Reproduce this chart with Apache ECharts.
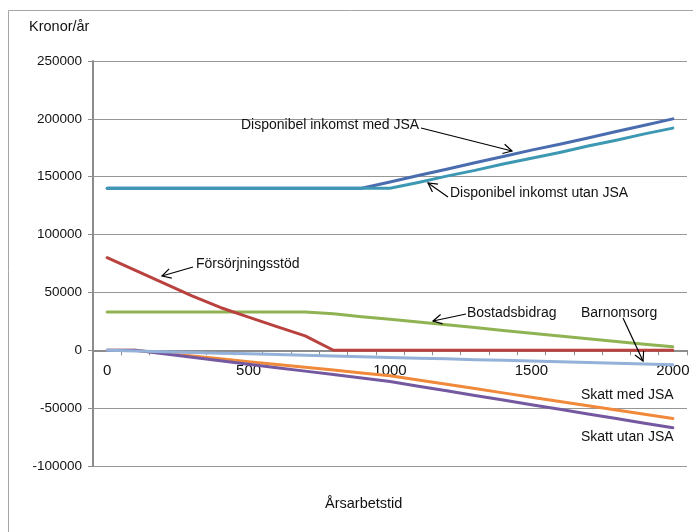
<!DOCTYPE html>
<html>
<head>
<meta charset="utf-8">
<script src="https://cdn.jsdelivr.net/npm/echarts@6/dist/echarts.min.js"></script>
<style>
  html, body { margin: 0; padding: 0; background: #fff; }
  #chart { width: 693px; height: 532px; }
</style>
</head>
<body>
<div id="chart"></div>
<script>
// ---- data ----
const hours = ['0','100','200','300','400','500','600','700','800','900','1000',
               '1100','1200','1300','1400','1500','1600','1700','1800','1900','2000'];
const dispMed   = [140000,140000,140000,140000,140000,140000,140000,140000,140000,140000,
                   145500,151000,156500,162000,167500,173000,178000,183500,189000,194500,200000];
const dispUtan  = [140000,140000,140000,140000,140000,140000,140000,140000,140000,140000,
                   140000,145000,150500,155500,161000,166000,171000,176500,181500,187000,192000];
const forsorj   = [80000,69000,58000,47000,37000,28700,20500,12500,0,0,
                   0,0,0,0,0,0,0,0,0,0,0];
const bostad    = [33000,33000,33000,33000,33000,33000,33000,33000,31500,29000,
                   26800,24400,22000,19600,17200,14800,12400,10000,7600,5200,3000];
const barnomsorg= [0,-600,-1200,-1900,-2500,-3100,-3700,-4300,-5000,-5600,
                   -6200,-6800,-7400,-8100,-8700,-9300,-9900,-10500,-11200,-11800,-12400];
const skattMed  = [0,0,-2500,-5000,-7400,-9800,-12200,-14700,-17100,-19600,
                   -22000,-25700,-29400,-33100,-36800,-40500,-44200,-47900,-51600,-55300,-59000];
const skattUtan = [0,0,-3000,-6000,-9000,-12000,-15000,-18000,-21000,-24000,
                   -27000,-31000,-35000,-39000,-43000,-47000,-51000,-55000,-59000,-63000,-67000];
const yMin = -100000, yMax = 250000, yStep = 50000;
const yTitle = 'Kronor/år';
const xTitle = 'Årsarbetstid';

// ---- annotations (layout) ----
const notes = [
  {text:'Disponibel inkomst med JSA', x:241, y:125, from:[421,128], to:[512,151]},
  {text:'Disponibel inkomst utan JSA', x:450, y:193, from:[448,197], to:[428,183]},
  {text:'Försörjningsstöd', x:196, y:264, from:[193,267], to:[162,276]},
  {text:'Bostadsbidrag', x:467, y:313, from:[466,314], to:[433,321]},
  {text:'Barnomsorg', x:581, y:313, from:[623,318], to:[643,361]},
  {text:'Skatt med JSA', x:581, y:395},
  {text:'Skatt utan JSA', x:581, y:437}
];

const FONT = '"Liberation Sans", Arial, sans-serif';
const GRID = {left:93, right:6, top:61, bottom:66};
const plotH = 532 - GRID.top - GRID.bottom;
const zeroOffset = -plotH * (0 - yMin) / (yMax - yMin);

const graphics = [
  {type:'rect', shape:{x:8.5, y:10.5, width:720, height:560}, style:{fill:'none', stroke:'#a6a6a6', lineWidth:1}, silent:true, z:0},
  {type:'text', left:29, top:19, style:{text:yTitle, fontSize:14.5, fontFamily:FONT, fill:'#111'}},
  {type:'text', left:325, top:496, style:{text:xTitle, fontSize:14.5, fontFamily:FONT, fill:'#111'}}
];
notes.forEach(n => {
  graphics.push({type:'text', x:n.x, y:n.y, z:100,
    style:{text:n.text, fontSize:14, fontFamily:FONT, fill:'#111', verticalAlign:'middle', align:'left'}});
  if (n.from) {
    const a = Math.atan2(n.to[1]-n.from[1], n.to[0]-n.from[0]);
    const L = 10, w = 0.5;
    const p1 = [n.to[0]-L*Math.cos(a-w), n.to[1]-L*Math.sin(a-w)];
    const p2 = [n.to[0]-L*Math.cos(a+w), n.to[1]-L*Math.sin(a+w)];
    graphics.push({type:'line', z:100, shape:{x1:n.from[0], y1:n.from[1], x2:n.to[0], y2:n.to[1]},
      style:{stroke:'#000', lineWidth:1.2}});
    graphics.push({type:'polyline', z:100, shape:{points:[p1, n.to, p2]},
      style:{stroke:'#000', lineWidth:1.2, fill:'none'}});
  }
});

function ser(name, data, color) {
  return {name, type:'line', data, symbol:'none', smooth:false,
          lineStyle:{color, width:3, join:'round', cap:'round'}, itemStyle:{color}, emphasis:{disabled:true}};
}

const chart = echarts.init(document.getElementById('chart'), null, {renderer:'canvas'});
chart.setOption({
  animation:false,
  backgroundColor:'#fff',
  grid:Object.assign({containLabel:false}, GRID),
  xAxis:{
    type:'category', data:hours, boundaryGap:true, offset:zeroOffset,
    axisLine:{onZero:false, lineStyle:{color:'#8c8c8c', width:2}},
    axisTick:{show:true, interval:0, alignWithLabel:false, length:5, lineStyle:{color:'#8c8c8c', width:1}},
    axisLabel:{interval:4, margin:13, fontSize:15, fontFamily:FONT, color:'#111'},
    splitLine:{show:false}
  },
  yAxis:{
    type:'value', min:yMin, max:yMax, interval:yStep,
    axisLine:{show:true, onZero:false, lineStyle:{color:'#8c8c8c', width:2}},
    axisTick:{show:true, length:5, lineStyle:{color:'#8c8c8c'}},
    axisLabel:{margin:11, fontSize:13.5, fontFamily:FONT, color:'#111', formatter: v => String(v)},
    splitLine:{show:true, lineStyle:{color:'#969696', width:1}}
  },
  series:[
    ser('Disponibel inkomst med JSA', dispMed, '#4a6db0'),
    ser('Disponibel inkomst utan JSA', dispUtan, '#3d98b4'),
    ser('Bostadsbidrag', bostad, '#8fb352'),
    ser('Försörjningsstöd', forsorj, '#b9423f'),
    ser('Skatt med JSA', skattMed, '#f0893a'),
    ser('Skatt utan JSA', skattUtan, '#7559a0'),
    ser('Barnomsorg', barnomsorg, '#93b1d9')
  ],
  graphic:graphics
});
</script>
</body>
</html>
